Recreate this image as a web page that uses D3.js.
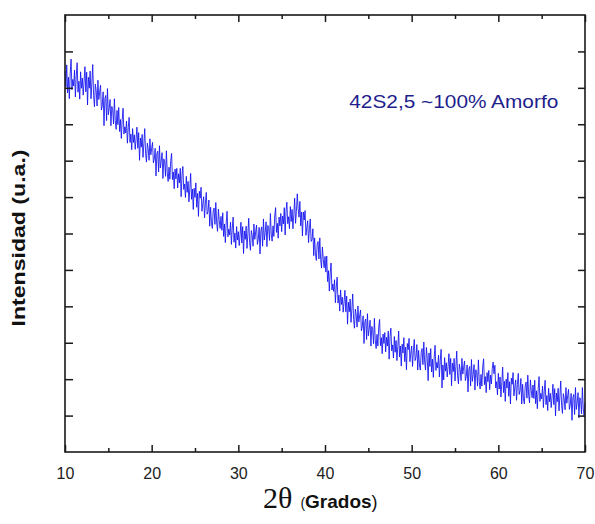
<!DOCTYPE html>
<html>
<head>
<meta charset="utf-8">
<script src="https://cdnjs.cloudflare.com/ajax/libs/d3/7.8.5/d3.min.js"></script>
<style>
  body { margin: 0; background: #fff; }
  .frame { fill: none; stroke: #1a1a1a; stroke-width: 1.6; }
  .tick line { stroke: #1a1a1a; stroke-width: 1.5; }
  .tick text { font-family: Arial, "Liberation Sans", sans-serif; font-size: 16px; fill: #222; }
</style>
</head>
<body>
<div id="chart"></div>
<script>
// scan parameters (2theta, degrees)
const scanStart = 10;
const scanStep = 0.1;

// intensity counts, one row per degree (10.0 .. 10.9, 11.0 .. 11.9, ...)
const intensity = [
  1046,1002,1063,986,1029,970,1038,1079,995,1023,
  1005,1049,975,1033,1069,988,1018,969,1044,999,
  1027,980,1018,1058,989,1043,953,1029,999,1046,
  970,1014,1064,979,948,1010,992,950,1021,968,
  988,1007,939,951,989,896,970,979,910,998,
  926,943,968,896,949,940,901,970,910,886,
  938,899,946,880,913,861,913,944,873,893,
  876,909,848,891,919,850,873,830,888,850,
  871,831,859,892,834,877,801,862,837,872,
  809,847,888,819,796,848,833,801,860,816,
  834,850,794,804,834,758,819,826,769,841,
  780,798,822,751,805,796,757,827,767,743,
  782,749,800,820,748,769,723,777,750,779,
  725,764,739,779,701,762,784,721,736,699,
  757,713,743,687,723,765,694,722,666,724,
  699,739,672,710,647,716,697,727,661,682,
  701,643,683,713,653,660,692,620,672,630,
  614,662,670,625,685,629,606,667,635,614,
  647,609,657,592,626,575,629,661,591,612,
  596,631,570,615,645,576,601,560,619,582,
  605,567,596,631,574,619,545,607,584,620,
  559,599,642,575,554,608,595,565,626,584,
  604,623,570,584,617,544,608,618,565,640,
  582,603,632,564,622,616,581,655,598,579,
  621,592,648,671,603,628,587,645,621,655,
  605,648,626,671,596,661,686,627,646,613,
  674,633,666,613,652,697,628,660,709,668,
  645,688,621,659,593,659,637,663,595,616,
  635,575,613,640,578,583,613,539,588,544,
  526,571,578,530,588,529,505,563,529,506,
  537,494,538,468,498,442,492,519,445,461,
  441,473,410,453,480,409,431,387,445,405,
  425,384,412,444,385,428,351,411,385,420,
  356,393,434,364,340,392,376,343,401,357,
  374,390,333,344,374,298,358,365,309,380,
  319,337,362,291,345,336,297,367,307,284,
  323,291,343,364,292,314,270,324,298,328,
  275,315,291,332,255,317,340,278,294,258,
  317,274,306,251,289,332,261,291,236,296,
  272,314,248,288,226,298,281,312,248,271,
  291,235,278,309,251,261,295,225,279,239,
  225,274,284,240,302,247,225,287,257,196,
  272,235,284,220,255,205,260,293,224,246,
  231,266,206,252,282,176,239,198,259,222,
  245,206,235,270,213,257,182,244,221,257,
  195,234,277,209,187,241,227,196,257,214,
  233,250,196,208,239,165,227,235,181,254,
  194,213,240,170,226,218,181,253,194,173,
  213,181,234,256,185,207,163,218,193,224,
  171,211,187,229,247,215,238,176,193,157,
  216,173,206,151,190,233,163,194,139,200,
  176,218,153,193,132,203,186,218,154,178,
  198,142,185,216,158,168,202,132,186,146,
  132,181,192,148,211,156,135,198,168,149,
  184,147,197,133,168,119,174,207,139,161,
  146,181,122,167,197,130,155,114,175,138,
  161,122,152,186,130,174,99,162,138,175,
  113,153,195,128,106,160,147,116,177,134,
  154,172,117,130,161,87,149,158,103,177,
  117,137,163,94,149,142,105,177,118,97,
  135
];

const xMajorTicks = [10, 20, 30, 40, 50, 60, 70];
const xMinorTicks = [15, 25, 35, 45, 55, 65];
const yTicks = [100, 200, 300, 400, 500, 600, 700, 800, 900, 1000, 1100];
const yDomain = [0, 1200];

const sampleName = '42S2,5 ~100% Amorfo';
const yTitle = 'Intensidad (u.a.)';

const width = 595, height = 524;
const margin = { t: 15, r: 10, b: 72, l: 65 };
const w = width - margin.l - margin.r;
const h = height - margin.t - margin.b;

const svg = d3.select('#chart').append('svg')
  .attr('width', width)
  .attr('height', height);

const plot = svg.append('g')
  .attr('transform', `translate(${margin.l},${margin.t})`);

const x = d3.scaleLinear().domain([10, 70]).range([0, w]);
const y = d3.scaleLinear().domain(yDomain).range([h, 0]);

const points = intensity.map((v, i) => [scanStart + i * scanStep, v]);

// data line
plot.append('path')
  .datum(points)
  .attr('fill', 'none')
  .attr('stroke', '#1010ee')
  .attr('stroke-width', 0.85)
  .attr('stroke-linejoin', 'round')
  .attr('d', d3.line().x(d => x(d[0])).y(d => y(d[1])));

// ticks all point inward
const bottom = plot.append('g').attr('transform', `translate(0,${h})`)
  .call(d3.axisBottom(x).tickValues(xMajorTicks).tickSize(-7).tickPadding(16).tickFormat(d3.format('d')));
bottom.selectAll('.tick text').attr('dy', '0.71em');

plot.append('g').attr('transform', `translate(0,${h})`)
  .call(d3.axisBottom(x).tickValues(xMinorTicks).tickSize(-4).tickFormat(''));

plot.append('g')
  .call(d3.axisTop(x).tickValues(xMajorTicks).tickSize(-7).tickFormat(''));
plot.append('g')
  .call(d3.axisTop(x).tickValues(xMinorTicks).tickSize(-4).tickFormat(''));

plot.append('g')
  .call(d3.axisLeft(y).tickValues(yTicks).tickSize(-8).tickFormat(''));
plot.append('g').attr('transform', `translate(${w},0)`)
  .call(d3.axisRight(y).tickValues(yTicks).tickSize(-7).tickFormat(''));

plot.selectAll('.domain').remove();

plot.append('rect')
  .attr('class', 'frame')
  .attr('width', w)
  .attr('height', h);

// sample label
plot.append('text')
  .attr('x', x(42.8))
  .attr('y', 93)
  .attr('font-family', 'Arial, "Liberation Sans", sans-serif')
  .attr('font-size', 19)
  .attr('fill', '#1e1e8c')
  .attr('textLength', 209)
  .attr('lengthAdjust', 'spacingAndGlyphs')
  .text(sampleName);

// y title
svg.append('text')
  .attr('transform', `translate(25,${238}) rotate(-90)`)
  .attr('text-anchor', 'middle')
  .attr('font-family', 'Arial, "Liberation Sans", sans-serif')
  .attr('font-weight', 'bold')
  .attr('font-size', 18)
  .attr('fill', '#111')
  .attr('textLength', 177)
  .attr('lengthAdjust', 'spacingAndGlyphs')
  .text(yTitle);

// x title: 2θ (Grados)
const xt = svg.append('text')
  .attr('x', 263)
  .attr('y', 508)
  .attr('fill', '#111');
xt.append('tspan')
  .attr('font-family', '"Liberation Serif", "Times New Roman", serif')
  .attr('font-size', 30)
  .text('2θ');
xt.append('tspan')
  .attr('dx', 8)
  .attr('font-family', 'Arial, "Liberation Sans", sans-serif')
  .attr('font-size', 14)
  .text('(');
xt.append('tspan')
  .attr('font-family', 'Arial, "Liberation Sans", sans-serif')
  .attr('font-weight', 'bold')
  .attr('font-size', 19)
  .text('Grados');
xt.append('tspan')
  .attr('font-family', 'Arial, "Liberation Sans", sans-serif')
  .attr('font-size', 18)
  .text(')');
</script>
</body>
</html>
